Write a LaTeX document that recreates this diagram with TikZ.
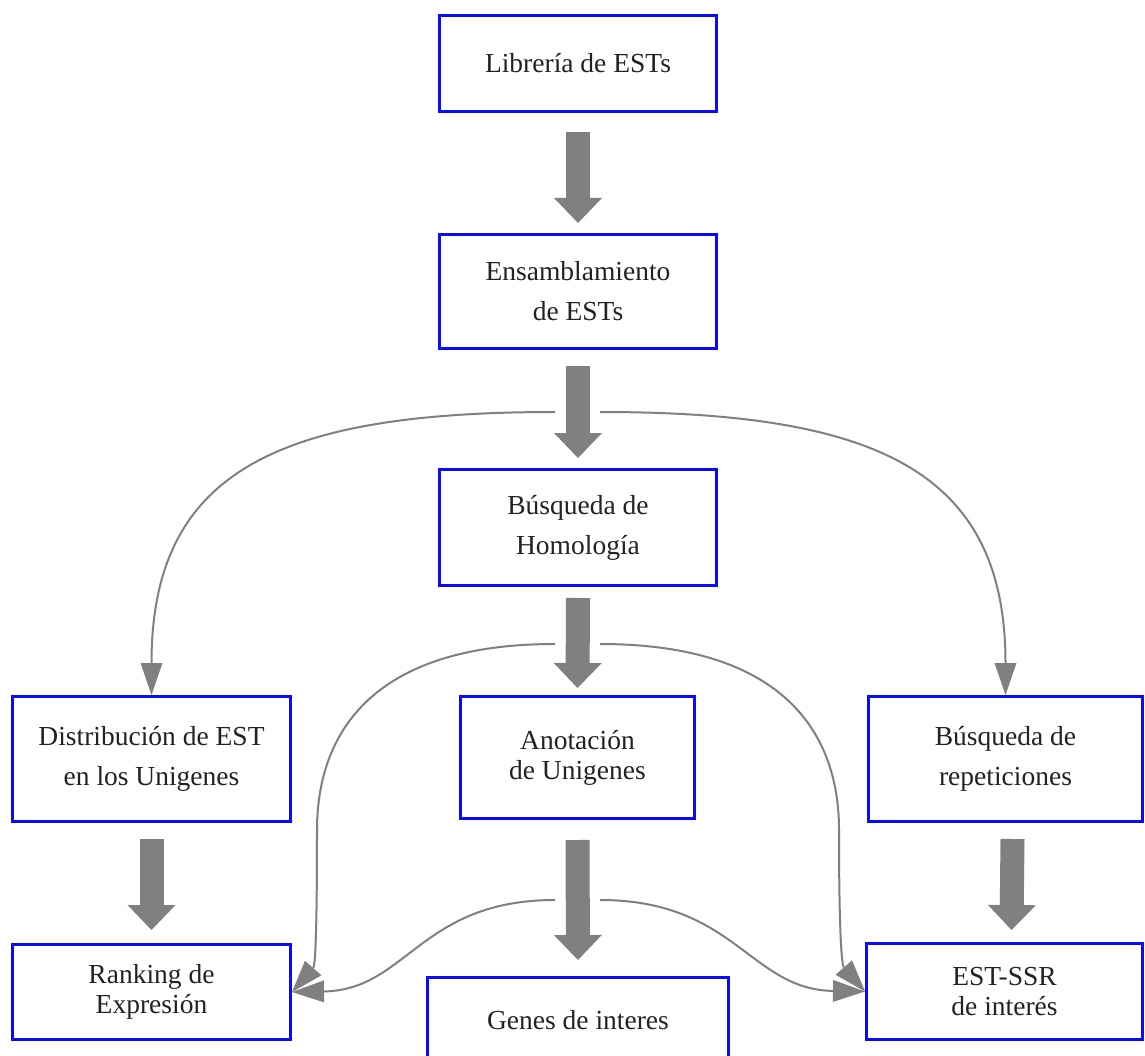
\documentclass[tikz,border=0pt]{standalone}
\usepackage{fontspec}
\setmainfont{Liberation Serif}
\usetikzlibrary{arrows.meta}
\definecolor{boxblue}{RGB}{10,10,255}
\definecolor{arrgray}{RGB}{128,128,128}
\definecolor{txtcol}{RGB}{34,34,34}
\begin{document}
\begin{tikzpicture}[x=1pt,y=-1pt,
  box/.style={draw=boxblue, line width=3pt, fill=white, rectangle, inner sep=0pt,
    align=center, text=txtcol, font=\fontsize{27.5pt}{40pt}\selectfont},
  tight/.style={font=\fontsize{27.5pt}{30pt}\selectfont},
  fat/.style={draw=arrgray, line width=24pt, -{Triangle[width=48pt,length=25pt,line width=0pt]}},
  thin/.style={draw=arrgray, line width=2pt, -{Triangle[width=22pt,length=32pt,line width=0pt]}}]
\clip (0,0) rectangle (1145,1056);

\node[box, minimum width=277pt, minimum height=96pt] (lib) at (578,63.5) {Librería de ESTs};
\node[box, minimum width=277pt, minimum height=114pt] (ens) at (578,291.5) {Ensamblamiento\\de ESTs};
\node[box, minimum width=277pt, minimum height=116pt] (hom) at (578,527.5) {Búsqueda de\\Homología};
\node[box, minimum width=278pt, minimum height=125pt] (dist) at (151.5,759) {Distribución de EST\\en los Unigenes};
\node[box, tight, minimum width=234pt, minimum height=122pt] (ano) at (577.5,757.5) {Anotación\\de Unigenes};
\node[box, minimum width=274pt, minimum height=125pt] (rep) at (1005.5,759) {Búsqueda de\\repeticiones};
\node[box, tight, minimum width=278pt, minimum height=95pt] (rank) at (151.5,992) {Ranking de\\Expresión};
\node[box, minimum width=301pt, minimum height=85pt] (genes) at (578,1020) {Genes de interes};
\node[box, tight, minimum width=276pt, minimum height=96pt] (ssr) at (1004.5,991.5) {EST-SSR\\de interés};

% start points of the thin curved connectors
\coordinate (sA) at ([xshift=-23pt,yshift=-62pt]ens.south);
\coordinate (sB) at ([xshift=22pt,yshift=-62pt]ens.south);
\coordinate (sC) at ([xshift=-23pt,yshift=-57pt]hom.south);
\coordinate (sE) at ([xshift=22pt,yshift=-57pt]hom.south);
\coordinate (sD) at ([xshift=-22.5pt,yshift=-80pt]ano.south);
\coordinate (sF) at ([xshift=22.5pt,yshift=-80pt]ano.south);
\coordinate (vL) at ([xshift=25pt,yshift=162pt]rank.east);
\coordinate (vR) at ([xshift=-26pt,yshift=162pt]ssr.west);

% thin curved connectors
\draw[thin] (sA) .. controls +(-275,0) and +(0,-225) .. (dist.north);
\draw[thin] (sB) .. controls +(275,0) and +(0,-225) .. (rep.north);
\draw[thin] (sC) .. controls +(-190,0) and +(0,-90) .. (vL) .. controls +(0,110) and +(23,-26) .. (rank.east);
\draw[thin] (sE) .. controls +(190,0) and +(0,-90) .. (vR) .. controls +(0,110) and +(-23,-26) .. (ssr.west);
\draw[thin] (sD) .. controls +(-135,0) and +(115,-2) .. (rank.east);
\draw[thin] (sF) .. controls +(135,0) and +(-115,-2) .. (ssr.west);

% thick arrows
\draw[fat] ([yshift=-19pt]lib.south) -- ([yshift=10pt]ens.north);
\draw[fat] ([yshift=-16pt]ens.south) -- ([yshift=10pt]hom.north);
\draw[fat] ([yshift=-11pt]hom.south) -- ([yshift=7pt]ano.north);
\draw[fat] ([yshift=-20pt]ano.south) -- ([yshift=16pt]genes.north);
\draw[fat] ([yshift=-16pt]dist.south) -- ([yshift=13pt]rank.north);
\draw[fat] ([xshift=7pt,yshift=-16pt]rep.south) -- ([xshift=7pt,yshift=12pt]ssr.north);
\end{tikzpicture}
\end{document}
